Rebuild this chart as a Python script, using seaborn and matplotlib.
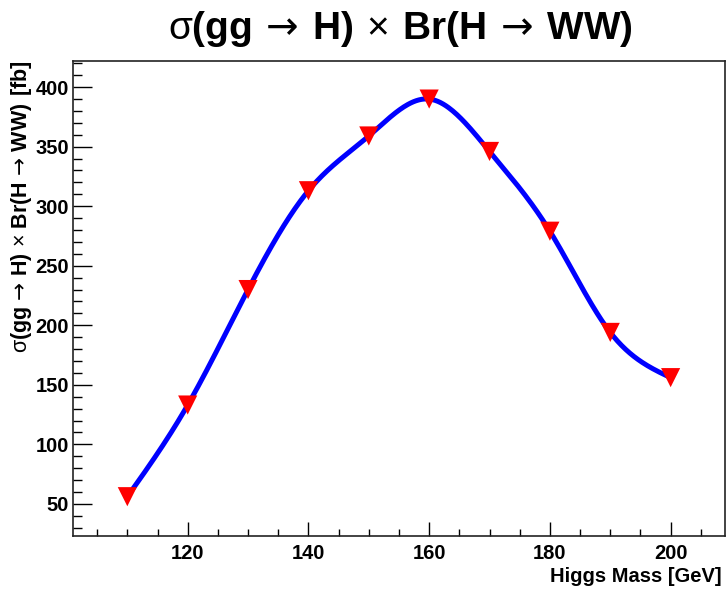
import numpy as np
import pandas as pd
import seaborn as sns
import matplotlib.pyplot as plt
from matplotlib.ticker import MultipleLocator

# Higgs mass points [GeV] and sigma x BR [fb]
mass = [110, 120, 130, 140, 150, 160, 170, 180, 190, 200]
xsec = [56, 133, 230, 313, 359, 390, 346, 279, 194, 156]

x_ticks = [120, 140, 160, 180, 200]
y_ticks = [50, 100, 150, 200, 250, 300, 350, 400]


def natural_spline(x, y, xs):
    # smooth curve through the points (like ROOT's "C" draw option)
    x = np.asarray(x, float)
    y = np.asarray(y, float)
    n = len(x)
    h = np.diff(x)
    A = np.zeros((n, n))
    b = np.zeros(n)
    A[0, 0] = A[-1, -1] = 1
    for i in range(1, n - 1):
        A[i, i - 1] = h[i - 1]
        A[i, i] = 2 * (h[i - 1] + h[i])
        A[i, i + 1] = h[i]
        b[i] = 6 * ((y[i + 1] - y[i]) / h[i] - (y[i] - y[i - 1]) / h[i - 1])
    M = np.linalg.solve(A, b)
    idx = np.clip(np.searchsorted(x, xs) - 1, 0, n - 2)
    x0, x1 = x[idx], x[idx + 1]
    hh = x1 - x0
    t0, t1 = x1 - xs, xs - x0
    return (M[idx] * t0**3 / (6 * hh) + M[idx + 1] * t1**3 / (6 * hh)
            + (y[idx] / hh - M[idx] * hh / 6) * t0
            + (y[idx + 1] / hh - M[idx + 1] * hh / 6) * t1)


sns.set_style("white")
plt.rcParams['font.family'] = ['Liberation Sans', 'DejaVu Sans']
plt.rcParams['font.weight'] = 'bold'
plt.rcParams['text.color'] = 'black'
plt.rcParams['xtick.color'] = 'black'
plt.rcParams['ytick.color'] = 'black'
plt.rcParams['mathtext.fontset'] = 'custom'
plt.rcParams['mathtext.rm'] = 'Liberation Sans:weight=normal'
plt.rcParams['mathtext.bf'] = 'Liberation Sans:weight=bold'
plt.rcParams['mathtext.sf'] = 'DejaVu Sans:weight=normal'

fig = plt.figure(figsize=(7.27, 5.89), dpi=100)
ax = fig.add_axes([0.1004, 0.09, 0.8968, 0.8065])

xs = np.linspace(mass[0], mass[-1], 400)
curve = pd.DataFrame({'mass': xs, 'xsec': natural_spline(mass, xsec, xs)})
points = pd.DataFrame({'mass': mass, 'xsec': xsec})

sns.lineplot(x='mass', y='xsec', data=curve, color='blue', linewidth=3.6, ax=ax)
sns.scatterplot(x='mass', y='xsec', data=points, marker='v', color='red',
                s=190, edgecolor='none', linewidth=0, zorder=3, ax=ax)

ax.set_xlim(101, 209)
ax.set_ylim(23, 422)
ax.set_xticks(x_ticks)
ax.set_yticks(y_ticks)
ax.xaxis.set_minor_locator(MultipleLocator(5))
ax.yaxis.set_minor_locator(MultipleLocator(10))
ax.tick_params(axis='both', which='both', direction='in', top=False, right=False,
               bottom=True, left=True, labelsize=14.5, width=1, color='black')
ax.tick_params(axis='x', which='major', length=10, pad=6)
ax.tick_params(axis='x', which='minor', length=5)
ax.tick_params(axis='y', which='major', length=13.5, pad=3)
ax.tick_params(axis='y', which='minor', length=6.5)
for lab in ax.get_xticklabels() + ax.get_yticklabels():
    lab.set_fontweight('bold')
for sp in ax.spines.values():
    sp.set_color('#222222')
    sp.set_linewidth(1.2)

ax.set_xlabel('')
ax.set_ylabel('')
fig.text(0.993, 0.005, 'Higgs Mass [GeV]', ha='right', va='bottom',
         fontsize=14.5, fontweight='bold')
ylab = (r'$\mathrm{σ}\mathbf{(gg}\;\mathsf{→}\;\mathbf{H)}\;\mathrm{×}\;'
        r'\mathbf{Br(H}\;\mathsf{→}\;\mathbf{WW)\ [fb]}$')
fig.text(0.029, 0.897, ylab, rotation=90, ha='center', va='top', fontsize=15.5)
title = (r'$\mathrm{σ}\mathbf{(gg}\ \mathsf{→}\ \mathbf{H)}\ \mathrm{×}\ '
         r'\mathbf{Br(H}\ \mathsf{→}\ \mathbf{WW)}$')
fig.text(0.551, 0.951, title, ha='center', va='center', fontsize=28)

plt.savefig('out.png', dpi=100)
